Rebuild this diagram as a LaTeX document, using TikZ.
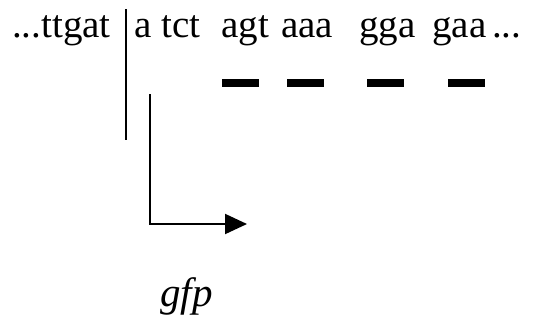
\documentclass[tikz,border=0pt]{standalone}
\usepackage{fontspec}
\setmainfont{Liberation Serif}
\usepackage{tikz}
\usetikzlibrary{arrows.meta}

\tikzset{
	seq/.style={anchor=base west,inner sep=0pt,font=\fontsize{39}{44}\selectfont},
	codon/.style={line width=8pt},
}

\begin{document}
\begin{tikzpicture}[x=1pt,y=-1pt]

	\useasboundingbox (0,0) rectangle (534,322);

	% sequence around the insertion site
	\node[seq] (ttgat) at (12,37) {...ttgat};
	\node[seq] (atct) at (134,37) {a tct};
	\node[seq] (agt) at (221,37) {agt};
	\node[seq] (aaa) at (281,37) {aaa};
	\node[seq] (gga) at (359,37) {gga};
	\node[seq] (gaa) at (432,37) {gaa};
	\node[seq] (dots) at (492,37) {...};

	% cut site
	\coordinate (cuttop) at (126,9);
	\coordinate (cutbot) at (126,140);
	\draw[line width=2pt] (cuttop) -- (cutbot);

	% reading frame
	\foreach \x in {222,287,367,448}
		\draw[codon] (\x,83) -- ++(37,0);

	% insert and its direction
	\coordinate (start) at (150,94);
	\coordinate (bend) at (150,224);
	\coordinate (stop) at (247,224);
	\draw[line width=2pt,-{Triangle[length=22pt,width=20pt]}] (start) -- (bend) -- (stop);

	\node[seq,font=\fontsize{41}{46}\selectfont\itshape] (gfp) at (160,306) {gfp};

\end{tikzpicture}
\end{document}
